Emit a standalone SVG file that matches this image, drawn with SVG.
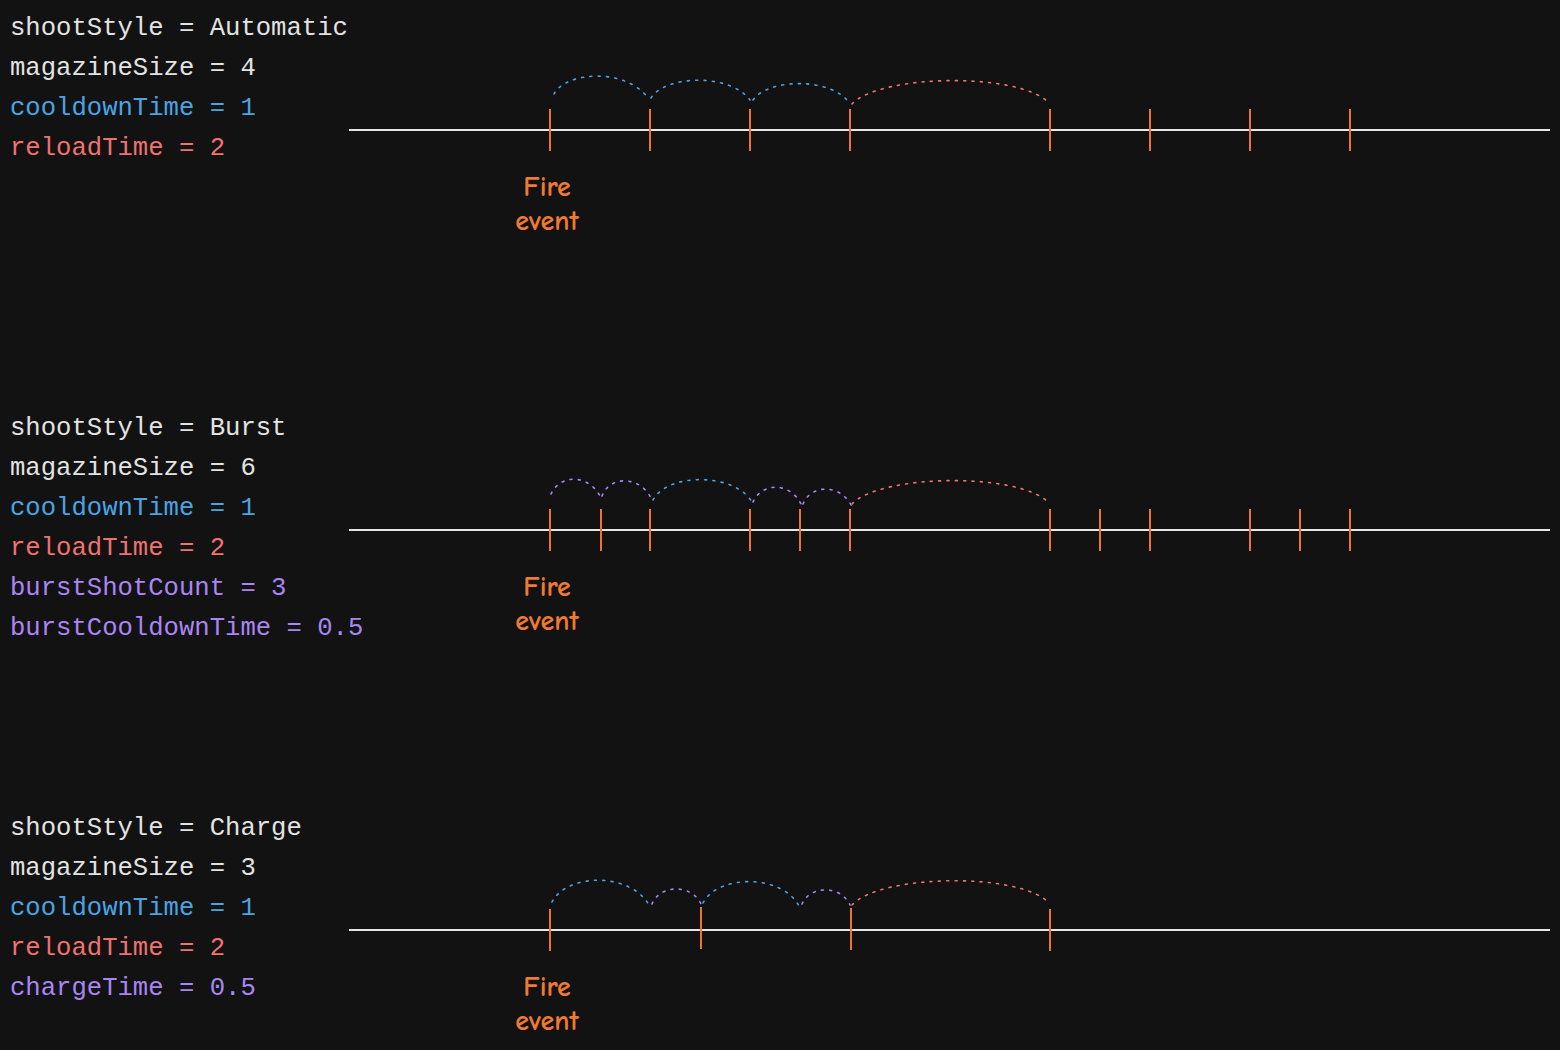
<svg xmlns="http://www.w3.org/2000/svg" width="1560" height="1050" viewBox="0 0 1560 1050">
<style>
.t{font-family:"Liberation Mono","DejaVu Sans Mono",monospace;font-size:25.6px}
.w{fill:#e3e3e3}.b{fill:#4ca3e4}.r{fill:#f07272}.p{fill:#a886f4}
.fe{font-family:"Comic Neue","Noto Sans",sans-serif;font-size:28px;font-weight:bold;fill:#ef7a33;text-anchor:middle}
.axis{stroke:#e6e6e6;stroke-width:2}
.tick{stroke:#ec7531;stroke-width:2}
.arc{fill:none;stroke-width:1.6;stroke-dasharray:2 6.3;stroke-linecap:round}
.ab{stroke:#4ca3e4}.ar{stroke:#f07272}.ap{stroke:#a886f4}
</style>
<rect width="1560" height="1050" fill="#121212"/>

<g id="automatic-params">
<text class="t w" x="10" y="35">shootStyle = Automatic</text>
<text class="t w" x="10" y="75">magazineSize = 4</text>
<text class="t b" x="10" y="115">cooldownTime = 1</text>
<text class="t r" x="10" y="155">reloadTime = 2</text>
</g>
<g id="automatic-timeline">
<line class="axis" x1="349" y1="130" x2="1550" y2="130"/>
<g class="tick">
<line x1="550" y1="109" x2="550" y2="151"/><line x1="650" y1="109" x2="650" y2="151"/>
<line x1="750" y1="109" x2="750" y2="151"/><line x1="850" y1="109" x2="850" y2="151"/>
<line x1="1050" y1="109" x2="1050" y2="151"/><line x1="1150" y1="109" x2="1150" y2="151"/>
<line x1="1250" y1="109" x2="1250" y2="151"/><line x1="1350" y1="109" x2="1350" y2="151"/>
</g>
<text class="fe" x="547" y="196">Fire</text>
<text class="fe" x="547" y="230">event</text>
</g>

<g id="burst-params">
<text class="t w" x="10" y="435">shootStyle = Burst</text>
<text class="t w" x="10" y="475">magazineSize = 6</text>
<text class="t b" x="10" y="515">cooldownTime = 1</text>
<text class="t r" x="10" y="555">reloadTime = 2</text>
<text class="t p" x="10" y="595">burstShotCount = 3</text>
<text class="t p" x="10" y="635">burstCooldownTime = 0.5</text>
</g>
<g id="burst-timeline">
<line class="axis" x1="349" y1="530" x2="1550" y2="530"/>
<g class="tick">
<line x1="550" y1="509" x2="550" y2="551"/><line x1="601" y1="509" x2="601" y2="551"/>
<line x1="650" y1="509" x2="650" y2="551"/><line x1="750" y1="509" x2="750" y2="551"/>
<line x1="800" y1="509" x2="800" y2="551"/><line x1="850" y1="509" x2="850" y2="551"/>
<line x1="1050" y1="509" x2="1050" y2="551"/><line x1="1100" y1="509" x2="1100" y2="551"/>
<line x1="1150" y1="509" x2="1150" y2="551"/><line x1="1250" y1="509" x2="1250" y2="551"/>
<line x1="1300" y1="509" x2="1300" y2="551"/><line x1="1350" y1="509" x2="1350" y2="551"/>
</g>
<text class="fe" x="547" y="596">Fire</text>
<text class="fe" x="547" y="630">event</text>
</g>

<g id="charge-params">
<text class="t w" x="10" y="835">shootStyle = Charge</text>
<text class="t w" x="10" y="875">magazineSize = 3</text>
<text class="t b" x="10" y="915">cooldownTime = 1</text>
<text class="t r" x="10" y="955">reloadTime = 2</text>
<text class="t p" x="10" y="995">chargeTime = 0.5</text>
</g>
<g id="charge-timeline">
<line class="axis" x1="349" y1="930" x2="1550" y2="930"/>
<g class="tick">
<line x1="550" y1="909" x2="550" y2="951"/><line x1="701" y1="907" x2="701" y2="949"/>
<line x1="851" y1="908" x2="851" y2="950"/><line x1="1050" y1="909" x2="1050" y2="951"/>
</g>
<text class="fe" x="547" y="996">Fire</text>
<text class="fe" x="547" y="1030">event</text>
</g>

<g id="connectors">
<path class="arc ab" d="M554 94 C565 72 625 67 648 98"/>
<path class="arc ab" d="M651 98 C665 75 730 73 750 100"/>
<path class="arc ab" d="M753 100 C768 78 833 77 850 104"/>
<path class="arc ar" d="M852 104 C880 74 1020 72 1049 103"/>

<path class="arc ap" d="M551 494 C560 474 588 474 600 496"/>
<path class="arc ap" d="M602 496 C610 475 640 476 651 498"/>
<path class="arc ab" d="M653 500 C668 472 735 473 752 502"/>
<path class="arc ap" d="M753 502 C762 482 790 482 801 504"/>
<path class="arc ap" d="M803 504 C811 484 840 484 851 505"/>
<path class="arc ar" d="M852 504 C880 474 1020 472 1049 503"/>

<path class="arc ab" d="M552 902 C567 873 630 872 649 905"/>
<path class="arc ap" d="M652 904 C660 884 692 884 701 904"/>
<path class="arc ab" d="M703 903 C718 874 782 874 799 906"/>
<path class="arc ap" d="M802 904 C810 885 841 885 850 905"/>
<path class="arc ar" d="M852 905 C880 874 1020 872 1049 903"/>
</g>
</svg>
